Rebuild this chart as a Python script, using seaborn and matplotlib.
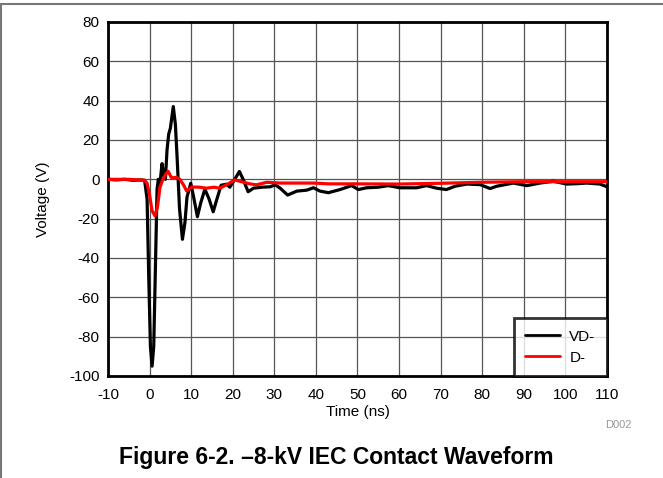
import matplotlib
matplotlib.use("Agg")
import matplotlib.pyplot as plt
import seaborn as sns
import pandas as pd
from matplotlib.lines import Line2D

# VD- waveform (black)
vd_time = [-10, -8, -6, -4, -2, -1.2, -0.6, -0.2, 0.2, 0.6, 1.0, 1.4, 1.8, 2.1, 2.5,
           3.0, 3.4, 3.8, 4.2, 4.6, 5.0, 5.7, 6.2, 6.6, 7.2, 7.9, 8.5, 9.0, 9.9, 10.5,
           11.5, 12.3, 13.3, 14.3, 15.3, 16.2, 17.2, 18.5, 19.3, 20.2, 21.6, 22.5, 23.7,
           25, 27, 29, 30.2, 31.4, 33.2, 35.4, 37.8, 39.4, 41, 43, 45.8, 48.6, 50.2,
           52.2, 55, 57.4, 60.2, 64.2, 66.6, 69, 71.4, 73.5, 76.3, 79.5, 81.9, 83.5,
           87.5, 90.7, 93.9, 97.1, 100.3, 103, 105.1, 108.3, 110]
vd_volt = [0, -0.3, 0, -0.5, -0.3, -0.5, -10, -50, -85, -95, -85, -45, -5, 0, -2,
           8, 2, 0, 15, 23, 26, 37, 28, 12, -15, -30.5, -22, -9, -2, -8,
           -19, -12, -5, -10, -16.5, -10, -3, -2.5, -4, -1, 4, 0, -6.3,
           -4.5, -4, -3.8, -2.8, -4.5, -8, -6, -5.5, -4.3, -6, -6.8, -5.2, -3.2, -5.2,
           -4.3, -4, -3.2, -4.3, -4.3, -3.2, -4.5, -5.2, -3.5, -2.4, -2.7, -4.7, -3.5,
           -1.9, -3.2, -1.9, -1.0, -2.4, -2.2, -1.9, -2.4, -3.8]

# D- waveform (red)
d_time = [-10, -5, -1.2, -0.6, 0, 0.6, 1.3, 1.9, 2.5, 3.2, 4.0, 4.5, 5.2, 5.7, 6.5,
          7.3, 8.2, 8.9, 10.2, 12, 13.7, 15.5, 16.9, 18.5, 20.5, 21.7, 24.1, 25.7,
          28.2, 31.4, 34.6, 39.4, 43, 50, 60, 70, 80, 90, 100, 110]
d_volt = [0, 0, -0.5, -2, -8, -16, -18.6, -14, -4, 0, 3, 4, 1, 0.8, 1,
          0, -3, -5.9, -3.9, -4, -4.5, -4, -4.5, -2.8, -0.3, -1, -2.3, -2.8,
          -1.5, -1.9, -1.9, -1.9, -2.3, -2.3, -2.4, -2.0, -1.5, -1.2, -1.2, -1.2]

x_ticks = list(range(-10, 111, 10))
y_ticks = list(range(-100, 81, 20))

sns.set_style("white")
plt.rcParams["font.family"] = ["Liberation Sans", "DejaVu Sans"]
plt.rcParams["axes.unicode_minus"] = False
plt.rcParams["text.color"] = "black"
plt.rcParams["axes.labelcolor"] = "black"

fig = plt.figure(figsize=(6.63, 4.78), dpi=100)
ax = fig.add_axes([0.1629, 0.2134, 0.9155 - 0.1629, 0.954 - 0.2134])

df_vd = pd.DataFrame({"t": vd_time, "v": vd_volt})
df_d = pd.DataFrame({"t": d_time, "v": d_volt})
sns.lineplot(data=df_vd, x="t", y="v", ax=ax, color="black", lw=2.3, label="VD-", zorder=3)
sns.lineplot(data=df_d, x="t", y="v", ax=ax, color="#ff0000", lw=2.3, label="D-", zorder=4)

ax.set_xlim(-10, 110)
ax.set_ylim(-100, 80)
ax.set_xticks(x_ticks)
ax.set_yticks(y_ticks)
ax.grid(True, color="#555555", lw=0.9)
ax.tick_params(axis="both", length=0, labelsize=11, colors="black")
ax.tick_params(axis="x", pad=9)
ax.tick_params(axis="y", pad=6)
for s in ax.spines.values():
    s.set_visible(True)
    s.set_color("black")
    s.set_linewidth(2)
ax.set_xlabel("Time (ns)", fontsize=11, labelpad=2)
ax.set_ylabel("Voltage (V)", fontsize=11, labelpad=14)

leg = ax.legend(loc="lower right", frameon=True, fancybox=False, fontsize=11,
                handlelength=2.3, handletextpad=0.6, borderaxespad=0,
                borderpad=0.75, labelspacing=0.45)
leg.get_frame().set_edgecolor("black")
leg.get_frame().set_linewidth(2)
for h in leg.get_lines():
    h.set_linewidth(2)

fig.text(0.952, 0.11, "D002", fontsize=8, color="#999999", ha="right", va="center")
fig.text(0.507, 0.042, "Figure 6-2. \u20138-kV IEC Contact Waveform", fontsize=16.5,
         fontweight="bold", ha="center", va="center")

# page border lines (top and left)
fig.add_artist(Line2D([0, 1], [0.991, 0.991], transform=fig.transFigure, color="#777777", lw=1.5))
fig.add_artist(Line2D([0.001, 0.001], [0, 0.991], transform=fig.transFigure, color="#777777", lw=1.5))

fig.savefig("out.png", dpi=100)
